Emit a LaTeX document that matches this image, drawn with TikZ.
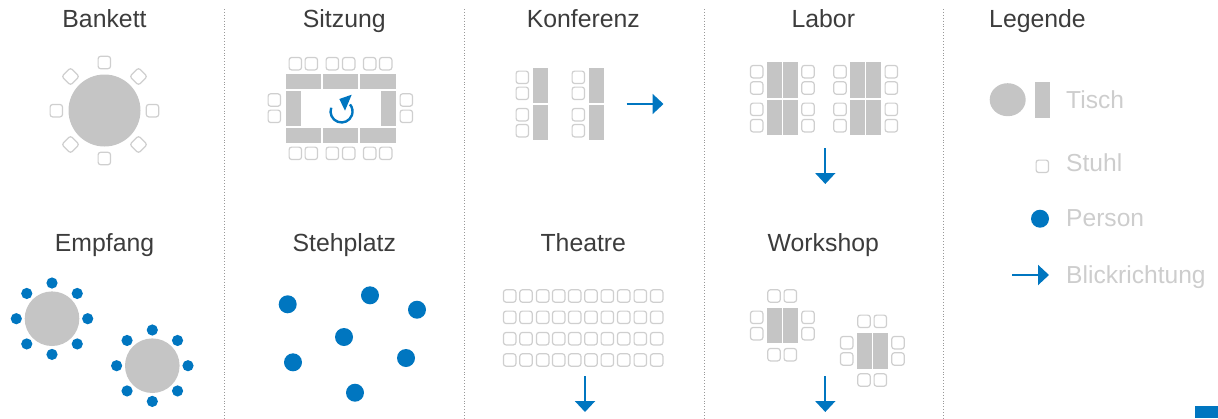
\documentclass[tikz,border=0pt]{standalone}
\usepackage{fontspec}
\setmainfont{Liberation Sans}
\usetikzlibrary{arrows.meta, shapes.geometric}
\definecolor{roomblue}{HTML}{0076C0}
\definecolor{tablegray}{HTML}{C5C5C5}
\definecolor{chairgray}{HTML}{CFCFCF}
\definecolor{titlegray}{HTML}{3C3C3C}
\definecolor{legendgray}{HTML}{CDCDCD}
\tikzstyle{title} = [font=\fontsize{24.8}{25}\selectfont, text=titlegray, inner sep=0pt, anchor=base]
\tikzstyle{legendtext} = [font=\fontsize{24.6}{25}\selectfont, text=legendgray, inner sep=0pt, anchor=base west]
\tikzstyle{chair} = [rectangle, draw=chairgray, fill=white, line width=1.2pt, rounded corners=2.5pt, minimum size=12.4pt, inner sep=0pt]
\tikzstyle{tablerect} = [rectangle, fill=tablegray, inner sep=0pt, minimum width=14.7pt, minimum height=35.5pt]
\tikzstyle{tablewide} = [tablerect, minimum width=35.5pt, minimum height=14.7pt]
\tikzstyle{roundtable} = [circle, fill=tablegray, inner sep=0pt]
\tikzstyle{person} = [circle, fill=roomblue, inner sep=0pt, minimum size=11.2pt]
\tikzstyle{bigperson} = [person, minimum size=18pt]
\tikzstyle{divider} = [draw=gray!80, line width=0.9pt, dotted]
\tikzstyle{arrow} = [draw=roomblue, line width=2.1pt, -{Triangle[length=11pt,width=20pt,fill=roomblue]}]

\begin{document}
\begin{tikzpicture}[x=1pt,y=-1pt]
	\useasboundingbox (0,0) rectangle (1218,418);

	% dividers
	\foreach \x/\n in {224/a,464.7/b,704.7/c,943.7/d}{
		\coordinate (top\n) at (\x,9);
		\coordinate (bot\n) at (\x,418);
		\draw [divider] (top\n) -- (bot\n);
	}

	% titles
	\node (Bankett) [title] at (104.5,27.6) {Bankett};
	\node (Sitzung) [title] at (344.3,27.6) {Sitzung};
	\node (Konferenz) [title] at (583.3,27.6) {Konferenz};
	\node (Labor) [title] at (823.3,27.6) {Labor};
	\node (Legende) [title, anchor=base west] at (989,27.6) {Legende};
	\node (Empfang) [title] at (104.5,251.6) {Empfang};
	\node (Stehplatz) [title] at (344.3,251.6) {Stehplatz};
	\node (Theatre) [title] at (583.3,251.6) {Theatre};
	\node (Workshop) [title] at (823.3,251.6) {Workshop};

	% Bankett
	\node (BankettTable) [roundtable, minimum size=72pt] at (104.5,110.5) {};
	\foreach \x/\y in {104.3/62.5,104.3/158.5,56.3/110.7,152.5/110.7}
		\node [chair] at (\x,\y) {};
	\foreach \x/\y in {70.5/76.5,138.5/76.5,70.5/144.5,138.5/144.5}
		\node [chair, rotate=45] at (\x,\y) {};

	% Sitzung
	\foreach \x in {303.5,340.7,377.9}{
		\node [tablewide] at (\x,81.5) {};
		\node [tablewide] at (\x,135.2) {};
	}
	\node [tablerect] at (293.3,108.3) {};
	\node [tablerect] at (388.4,108.3) {};
	\foreach \x in {295.3,311.3,332.3,348.7,369.7,385.7}{
		\node [chair] at (\x,63.7) {};
		\node [chair] at (\x,153.3) {};
	}
	\foreach \y in {100,116.3}{
		\node [chair] at (274.3,\y) {};
		\node [chair] at (406.3,\y) {};
	}
	\coordinate (TurnStart) at (331.2,107.7);
	\draw [draw=roomblue, line width=2.4pt] (TurnStart) arc[start angle=-160, end angle=-400, radius=11];
	\fill [roomblue] (351.7,94.7) -- (339.3,99) -- (345,110.7) -- cycle;

	% Konferenz
	\foreach \x in {540.2,596.4}{
		\node [tablerect] at (\x,85.3) {};
		\node [tablerect] at (\x,122.6) {};
	}
	\foreach \x in {522.3,578.3}
		\foreach \y in {77.3,93.3,114.7,130.7}
			\node [chair] at (\x,\y) {};
	\coordinate (KonferenzStart) at (626.7,104);
	\coordinate (KonferenzEnd) at (663.5,104);
	\draw [arrow] (KonferenzStart) -- (KonferenzEnd);

	% Labor
	\foreach \x in {774.3,790.4,857.6,873.7}{
		\node [tablerect] at (\x,79.8) {};
		\node [tablerect] at (\x,117.5) {};
	}
	\foreach \x in {756.7,808,840,891.3}
		\foreach \y in {71.7,88,109.3,125.7}
			\node [chair] at (\x,\y) {};
	\coordinate (LaborStart) at (825.3,148);
	\coordinate (LaborEnd) at (825.3,184);
	\draw [arrow] (LaborStart) -- (LaborEnd);

	% Empfang
	\node (EmpfangA) [roundtable, minimum size=54.6pt] at (52,318.7) {};
	\node (EmpfangB) [roundtable, minimum size=54.6pt] at (152.3,365.7) {};
	\foreach \a in {0,45,...,315}{
		\node [person] at ([shift={(\a:35.7)}]EmpfangA.center) {};
		\node [person] at ([shift={(\a:35.7)}]EmpfangB.center) {};
	}

	% Stehplatz
	\foreach \x/\y in {287.7/304.3,370/295.3,417/309.7,344/337,293/362.3,406/358,355/392.7}
		\node [bigperson] at (\x,\y) {};

	% Theatre
	\foreach \y in {296,317.3,338.7,360}
		\foreach \x in {509.7,526,542.7,558.7,574.7,591,607.3,623.7,640.3,656.7}
			\node [chair] at (\x,\y) {};
	\coordinate (TheatreStart) at (585,376);
	\coordinate (TheatreEnd) at (585,412);
	\draw [arrow] (TheatreStart) -- (TheatreEnd);

	% Workshop
	\node [tablerect] at (774.3,325.5) {};
	\node [tablerect] at (790.4,325.5) {};
	\node [tablerect] at (864.4,350.9) {};
	\node [tablerect] at (880.4,350.9) {};
	\foreach \x in {774,790.3}{
		\node [chair] at (\x,296) {};
		\node [chair] at (\x,354.7) {};
	}
	\foreach \x in {756.7,808}{
		\node [chair] at (\x,317.3) {};
		\node [chair] at (\x,333.7) {};
	}
	\foreach \x in {864,880.3}{
		\node [chair] at (\x,321.3) {};
		\node [chair] at (\x,380) {};
	}
	\foreach \x in {846.7,898}{
		\node [chair] at (\x,342.7) {};
		\node [chair] at (\x,359) {};
	}
	\coordinate (WorkshopStart) at (825.3,376);
	\coordinate (WorkshopEnd) at (825.3,412);
	\draw [arrow] (WorkshopStart) -- (WorkshopEnd);

	% Legende
	\node (LegendRound) [ellipse, fill=tablegray, inner sep=0pt, minimum width=36pt, minimum height=33pt] at (1007.7,99.7) {};
	\node (LegendRect) [tablerect] at (1042.3,99.8) {};
	\node (LegendChair) [chair] at (1042.3,166.3) {};
	\node (LegendPerson) [bigperson] at (1040,218.7) {};
	\coordinate (LegendStart) at (1012.3,275);
	\coordinate (LegendEnd) at (1049,275);
	\draw [arrow] (LegendStart) -- (LegendEnd);
	\node (Tisch) [legendtext] at (1066,108.4) {Tisch};
	\node (Stuhl) [legendtext] at (1066,171.6) {Stuhl};
	\node (Person) [legendtext] at (1066,226.6) {Person};
	\node (Blick) [legendtext] at (1066,283.4) {Blickrichtung};

	\node (Corner) [rectangle, fill=roomblue, inner sep=0pt, minimum width=23pt, minimum height=12pt, anchor=south east] at (1218,418) {};
\end{tikzpicture}
\end{document}
